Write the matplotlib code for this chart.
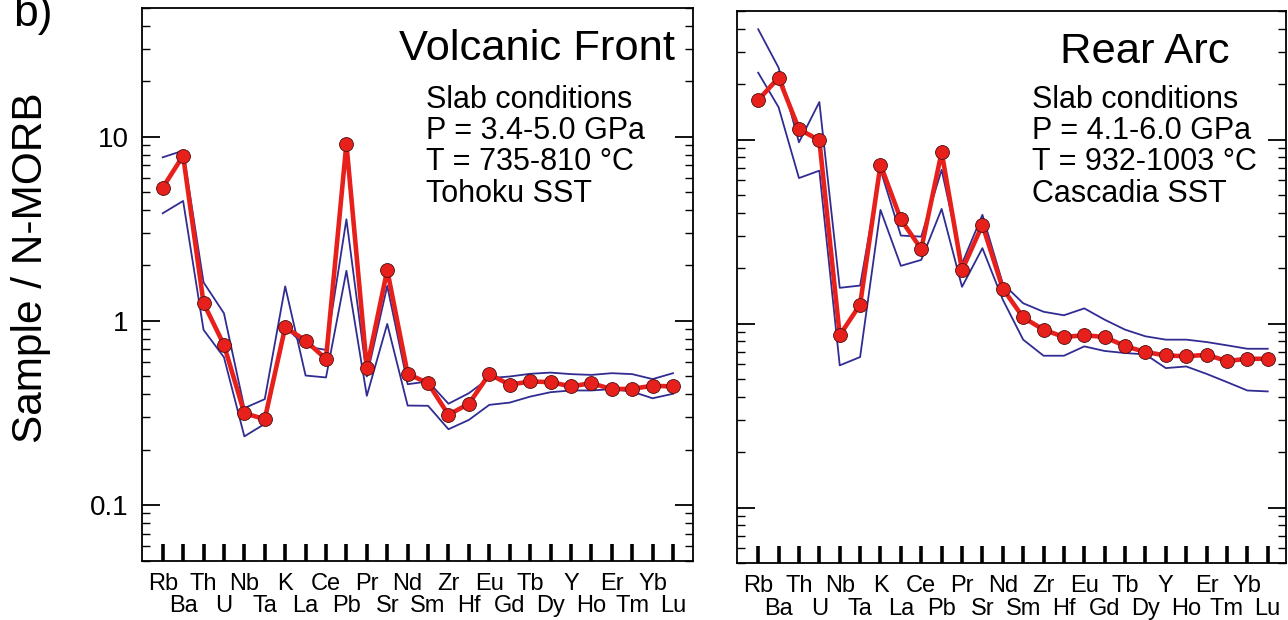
import matplotlib
matplotlib.use('Agg')
import matplotlib.pyplot as plt
from matplotlib.ticker import FixedLocator, LogLocator, NullFormatter

plt.rcParams['font.family'] = ['Liberation Sans', 'DejaVu Sans']

# Element order for the spider diagram
elements = ['Rb', 'Ba', 'Th', 'U', 'Nb', 'Ta', 'K', 'La', 'Ce', 'Pb', 'Pr', 'Sr', 'Nd',
            'Sm', 'Zr', 'Hf', 'Eu', 'Gd', 'Tb', 'Dy', 'Y', 'Ho', 'Er', 'Tm', 'Yb', 'Lu']

# Volcanic front: model mean (red) and two bounding curves (blue)
vf_mean = [5.29, 7.89, 1.25, 0.741, 0.315, 0.293, 0.924, 0.782, 0.620, 9.16, 0.554, 1.89, 0.516,
           0.459, 0.309, 0.355, 0.514, 0.450, 0.469, 0.465, 0.441, 0.459, 0.426, 0.428, 0.444, 0.441]
vf_line_a = [7.73, 8.40, 1.62, 1.10, 0.336, 0.376, 1.54, 0.505, 0.493, 1.87, 0.392, 0.963, 0.347,
             0.346, 0.258, 0.290, 0.350, 0.360, 0.388, 0.410, 0.419, 0.419, 0.426, 0.413, 0.380, 0.402]
vf_line_b = [3.84, 4.48, 0.894, 0.635, 0.236, 0.276, 0.93, 0.726, 0.696, 3.56, 0.499, 1.55, 0.453,
             0.469, 0.355, 0.405, 0.489, 0.499, 0.516, 0.524, 0.514, 0.509, 0.520, 0.514, 0.483, 0.520]

# Rear arc
ra_mean = [16.4, 21.7, 11.4, 9.92, 0.864, 1.27, 7.31, 3.68, 2.54, 8.57, 1.95, 3.44, 1.55,
           1.08, 0.927, 0.846, 0.864, 0.846, 0.755, 0.700, 0.672, 0.664, 0.677, 0.626, 0.644, 0.644]
ra_line_a = [39.8, 24.6, 9.67, 16.0, 1.565, 1.61, 6.86, 3.01, 2.97, 6.86, 2.12, 3.90, 1.65,
             1.29, 1.16, 1.11, 1.21, 1.05, 0.927, 0.853, 0.818, 0.818, 0.794, 0.762, 0.730, 0.730]
ra_line_b = [23.1, 15.0, 6.18, 6.78, 0.593, 0.658, 4.15, 2.06, 2.22, 4.20, 1.585, 2.57, 1.35,
             0.818, 0.669, 0.669, 0.752, 0.710, 0.692, 0.680, 0.573, 0.585, 0.533, 0.481, 0.433, 0.428]

vf_title = 'Volcanic Front'
vf_text = ['Slab conditions', 'P = 3.4-5.0 GPa', 'T = 735-810 °C', 'Tohoku SST']
ra_title = 'Rear Arc'
ra_text = ['Slab conditions', 'P = 4.1-6.0 GPa', 'T = 932-1003 °C', 'Cascadia SST']

W, H = 1288, 620
RED = '#e8201c'
BLUE = '#302c92'

fig = plt.figure(figsize=(W / 100, H / 100), dpi=100)


def px_axes(x0, x1, y0, y1):
    return fig.add_axes([x0 / W, 1 - y1 / H, (x1 - x0) / W, (y1 - y0) / H])


ax1 = px_axes(142.3, 693.0, 8.0, 560.5)
ax2 = px_axes(737.0, 1286.5, 11.0, 563.0)

x = list(range(len(elements)))
# top row of labels on even positions, bottom row on odd positions
x_top, lab_top = x[0::2], elements[0::2]
x_bot, lab_bot = x[1::2], elements[1::2]

for ax, mean, la, lb, xl in [(ax1, vf_mean, vf_line_a, vf_line_b, (-1.0, 25.98)),
                             (ax2, ra_mean, ra_line_a, ra_line_b, (-1.04, 25.92))]:
    ax.plot(x, la, color=BLUE, lw=1.3, zorder=2)
    ax.plot(x, lb, color=BLUE, lw=1.3, zorder=2)
    ax.plot(x, mean, color=RED, lw=3.3, marker='o', ms=10, mfc=RED, mec='#4a1010',
            mew=0.6, zorder=3)
    ax.set_yscale('log')
    ax.set_ylim(0.05, 50)
    ax.set_xlim(*xl)
    ax.yaxis.set_major_locator(FixedLocator([0.1, 1, 10]))
    ax.yaxis.set_minor_locator(LogLocator(base=10, subs=range(2, 10)))
    ax.yaxis.set_minor_formatter(NullFormatter())
    ax.set_yticklabels(['0.1', '1', '10'])
    ax.set_xticks(x_top)
    ax.set_xticklabels(lab_top, fontsize=17)
    ax.set_xticks(x_bot, minor=True)
    ax.set_xticklabels(lab_bot, minor=True, fontsize=17)
    ax.tick_params(axis='x', which='major', direction='in', length=12, width=2.6, pad=9, top=False)
    ax.tick_params(axis='x', which='minor', direction='in', length=12, width=2.6, pad=25, top=False)
    ax.tick_params(axis='y', which='major', direction='in', length=13, width=1.3,
                   left=True, right=True, labelsize=20, pad=10)
    ax.tick_params(axis='y', which='minor', direction='in', length=5.5, width=1.0,
                   left=True, right=True)
    for s in ax.spines.values():
        s.set_linewidth(1.3)

ax2.tick_params(axis='y', which='both', labelleft=False)

# Titles and slab conditions
fig.text(675 / W, 1 - 59.6 / H, vf_title, fontsize=31.3, ha='right', va='baseline')
fig.text(1229 / W, 1 - 62.8 / H, ra_title, fontsize=31.3, ha='right', va='baseline')
for i, line in enumerate(vf_text):
    fig.text(426 / W, 1 - (108 + 31.2 * i) / H, line, fontsize=22, ha='left', va='baseline')
for i, line in enumerate(ra_text):
    fig.text(1031.5 / W, 1 - (108 + 31.2 * i) / H, line, fontsize=22, ha='left', va='baseline')

fig.text(31 / W, 1 - 268 / H, 'Sample / N-MORB', fontsize=30.5, rotation=90,
         ha='center', va='center')
fig.text(13 / W, 1 - 26 / H, 'b)', fontsize=32, ha='left', va='baseline')

fig.savefig('out.png', dpi=100)
